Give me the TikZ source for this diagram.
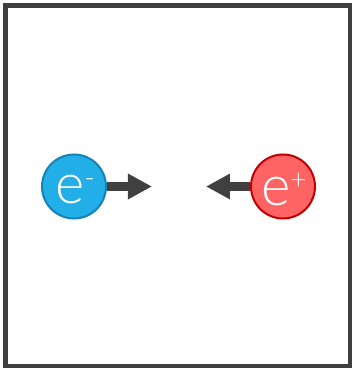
\documentclass[tikz,border=0pt]{standalone}
\usepackage{fontspec}
\setmainfont{Lato}[UprightFont={* Light}]
\usetikzlibrary{arrows.meta}
\definecolor{framegray}{HTML}{3F3F3F}
\definecolor{arrowgray}{HTML}{404040}
\definecolor{elecfill}{HTML}{22AEE6}
\definecolor{elecline}{HTML}{1682B5}
\definecolor{posfill}{HTML}{FF6464}
\definecolor{posline}{HTML}{C00000}
\tikzset{
  particle/.style={circle, minimum size=64pt, inner sep=0pt, line width=2pt},
  electron/.style={particle, fill=elecfill, draw=elecline},
  positron/.style={particle, fill=posfill, draw=posline},
  charge/.style={text=white, inner sep=0pt},
  push/.style={draw=arrowgray, line width=9pt,
    -{Triangle[length=24pt, width=24pt]}},
}
\newcommand{\particlelabel}[1]{{\fontsize{56}{56}\selectfont e\raisebox{16pt}{\fontsize{28}{28}\selectfont #1}}}
\begin{document}
\begin{tikzpicture}[x=1pt, y=1pt]
  \useasboundingbox (0,0) rectangle (352,368);
  \fill[white] (0,0) rectangle (352,368);
  % box enclosing the two particles
  \draw[framegray, line width=5pt] (5.5,1.5) rectangle (350.5,362.5);
  % electron moving right
  \node[electron] (el) at (74,181.5) {};
  \node[charge] at ([xshift=1pt,yshift=-3pt]el.center) {\particlelabel{-}};
  \coordinate (eltip) at (152,181.5);
  \draw[push] (el.east) -- (eltip);
  % positron moving left
  \node[positron] (po) at (283,181.5) {};
  \node[charge] at ([xshift=1pt,yshift=-3pt]po.center) {\particlelabel{+}};
  \coordinate (potip) at (206,181.5);
  \draw[push] (po.west) -- (potip);
\end{tikzpicture}
\end{document}
